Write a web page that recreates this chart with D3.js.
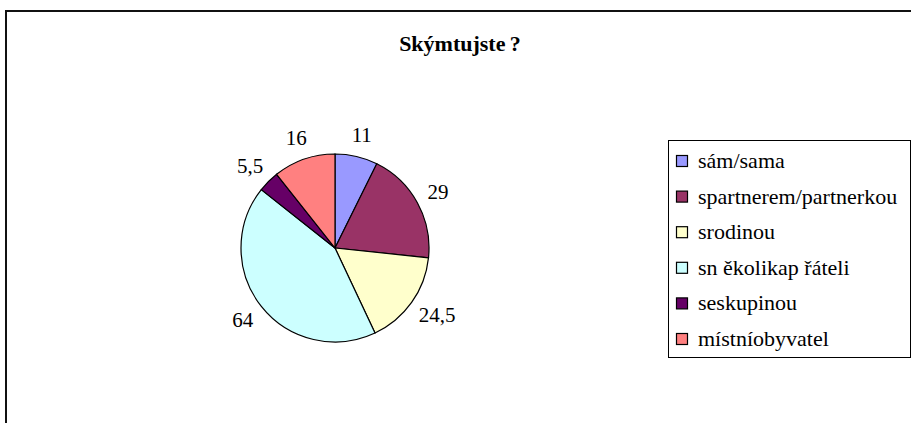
<!DOCTYPE html>
<html>
<head>
<meta charset="utf-8">
<script src="https://cdn.jsdelivr.net/npm/d3@7"></script>
<style>
  body { margin: 0; background: #fff; }
  text { font-family: "Liberation Serif", "Times New Roman", serif; fill: #000; }
</style>
</head>
<body>
<div id="chart"></div>
<script>
// pie chart: S kým tu jste?

var categories = ["sám/sama", "spartnerem/partnerkou", "srodinou", "sn ěkolikap řáteli", "seskupinou", "místníobyvatel"];
var values = [11, 29, 24.5, 64, 5.5, 16];
var colors = ["#9999ff", "#993366", "#ffffcc", "#ccffff", "#660066", "#ff8080"];
var title = "Skýmtujste\u2009?";

var totwidth = 911,
    totheight = 423,
    center = {x: 335, y: 248},
    radius = 94,
    labelGap = 13,
    legendBox = {left: 668, top: 140, right: 910, bottom: 357};

var czFormat = d3.formatLocale({decimal: ",", thousands: " ", grouping: [3], currency: ["", " Kč"]}).format("~g");

var svg = d3.select("#chart").append("svg")
    .attr("width", totwidth)
    .attr("height", totheight);

// outer frame (right and bottom edges run off the page)
svg.append("path")
    .attr("d", "M6,430 L6,11 L920,11")
    .attr("fill", "none")
    .attr("stroke", "#111")
    .attr("stroke-width", 2);

svg.append("text")
    .attr("x", 460)
    .attr("y", 51)
    .attr("text-anchor", "middle")
    .attr("font-size", 22)
    .attr("font-weight", "bold")
    .text(title);

var pie = d3.pie().sort(null).value(function(d) { return d; });
var arcs = pie(values);
var arc = d3.arc().innerRadius(0).outerRadius(radius);

var pieG = svg.append("g")
    .attr("transform", "translate(" + center.x + "," + center.y + ")");

pieG.selectAll(".slice")
    .data(arcs)
    .enter()
    .append("path")
    .attr("class", "slice")
    .attr("d", arc)
    .attr("fill", function(d, i) { return colors[i]; })
    .attr("stroke", "#000")
    .attr("stroke-width", 1.2);

// value labels, pushed outward so the box sits outside the pie
pieG.selectAll(".valLabel")
    .data(arcs)
    .enter()
    .append("text")
    .attr("class", "valLabel")
    .attr("font-size", 21)
    .attr("text-anchor", "middle")
    .attr("dominant-baseline", "central")
    .text(function(d) { return czFormat(d.value); })
    .each(function(d) {
      var bb = this.getBBox();
      var a = (d.startAngle + d.endAngle) / 2;
      var s = Math.sin(a), c = -Math.cos(a);
      var px = (radius + labelGap) * s + s * bb.width / 2;
      var py = (radius + labelGap) * c + c * bb.height / 2 * 0.75;
      d3.select(this).attr("x", px).attr("y", py);
    });

// legend
svg.append("rect")
    .attr("x", legendBox.left + 0.5)
    .attr("y", legendBox.top + 0.5)
    .attr("width", legendBox.right - legendBox.left)
    .attr("height", legendBox.bottom - legendBox.top)
    .attr("fill", "#fff")
    .attr("stroke", "#000")
    .attr("stroke-width", 1);

var yLegend = d3.scalePoint()
    .domain(categories)
    .range([161, 339]);

var legendRow = svg.selectAll(".legendRow")
    .data(categories)
    .enter()
    .append("g")
    .attr("class", "legendRow")
    .attr("transform", function(d) { return "translate(" + (legendBox.left + 8) + "," + yLegend(d) + ")"; });

legendRow.append("rect")
    .attr("x", 0.5)
    .attr("y", -5.5)
    .attr("width", 11)
    .attr("height", 11)
    .attr("fill", function(d, i) { return colors[i]; })
    .attr("stroke", "#000")
    .attr("stroke-width", 1.2);

legendRow.append("text")
    .attr("x", 22)
    .attr("y", 7)
    .attr("font-size", 22)
    .text(function(d) { return d; });
</script>
</body>
</html>
